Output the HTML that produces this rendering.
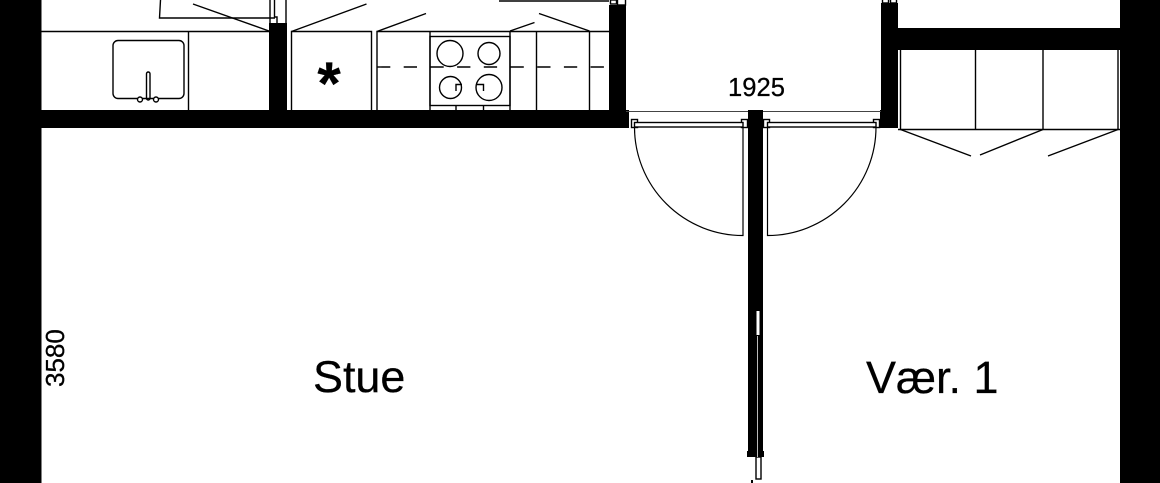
<!DOCTYPE html>
<html>
<head>
<meta charset="utf-8">
<style>
html,body{margin:0;padding:0;background:#fff;width:1160px;height:483px;overflow:hidden}
svg{display:block}
text{font-family:"Liberation Sans",sans-serif;fill:#000;stroke:#000;stroke-width:.25}
</style>
</head>
<body>
<svg width="1160" height="483" viewBox="0 0 1160 483" xmlns="http://www.w3.org/2000/svg">
<rect width="1160" height="483" fill="#fff"/>
<!-- walls -->
<g fill="#000">
<rect x="0" y="0" width="41.5" height="483"/>
<rect x="1120" y="0" width="40" height="483"/>
<rect x="41" y="110" width="588" height="18"/>
<rect x="269" y="23" width="18" height="88"/>
<rect x="609" y="5" width="17" height="106"/>
<rect x="881" y="3" width="17" height="125"/>
<rect x="880" y="110" width="18" height="18"/>
<rect x="898" y="28" width="222" height="22"/>
<rect x="748" y="110" width="15" height="347"/>
<rect x="747" y="451" width="17" height="6"/>
</g>
<!-- thin lines -->
<g fill="none" stroke="#000" stroke-width="1.4">
<!-- left kitchen -->
<path d="M41 31.5H269"/>
<path d="M188.5 31.5V110"/>
<path d="M160.5 0L159.5 18H275"/>
<path d="M193 4L269 31"/>
<path d="M270 0V23M274.5 0V17H277V23M286 0V23"/>
<rect x="113" y="40.5" width="71" height="58" rx="5" ry="5"/>
<rect x="146.5" y="72" width="3.5" height="28" rx="1.75" ry="1.75"/>
<circle cx="140" cy="99.5" r="2.5" fill="#fff"/>
<circle cx="156" cy="99.5" r="2.5" fill="#fff"/>
<!-- cabinets -->
<path d="M291.5 110V31.5H371.5V110"/>
<path d="M291.5 31.5L366.5 4"/>
<path d="M377 110V31.5H609"/>
<path d="M377 31.5L426 13.5"/>
<path d="M430 31.5V110M510 31.5V110M536.5 31.5V110M589.5 31.5V110"/>
<path d="M510 31L534.5 22.5"/>
<path d="M589.5 31L539 13.5"/>
<rect x="430" y="36.5" width="80" height="69"/>
<path d="M377 67H609" stroke-dasharray="13.3 13.4"/>
<circle cx="450" cy="53.5" r="13"/>
<circle cx="489" cy="53.5" r="11"/>
<circle cx="450.5" cy="87.5" r="11"/>
<circle cx="489" cy="87.5" r="13"/>
<path d="M456 91V84.5H462M476.5 84.5H483.5V91"/>
<path d="M456 105.5V110M483.5 105.5V110"/>
<path d="M499 1H609"/>
<rect x="610.5" y="0" width="6" height="4" />
<rect x="617.5" y="-1" width="8" height="6"/>
<!-- doorway -->
<path d="M626 111.5H748M763 111.5H881" stroke="#444" stroke-width="1.1"/>
<rect x="631.5" y="119.5" width="6" height="8" fill="#fff"/>
<rect x="741.5" y="119.5" width="6" height="8" fill="#fff"/>
<rect x="763.5" y="119.5" width="6" height="8" fill="#fff"/>
<rect x="873.5" y="119.5" width="6" height="8" fill="#fff"/>
<rect x="634.5" y="122.5" width="108.5" height="4.5" fill="#fff"/>
<rect x="767.5" y="122.5" width="108.5" height="4.5" fill="#fff"/>
<path d="M743 127V235.5A108.5 108.5 0 0 1 634.5 127" stroke-width="1.2"/>
<path d="M767.5 127V235.5A108.5 108.5 0 0 0 876 127" stroke-width="1.2"/>
<!-- right closets -->
<path d="M898 129.5H1120"/>
<path d="M900.5 50V129.5M975.5 50V129.5M1043 50V129.5M1118 50V129.5"/>
<path d="M900.5 129.5L971 156M980 155L1043 129.5M1048 156L1118 129.5"/>
<rect x="882.5" y="-1" width="6" height="4"/>
<rect x="890.5" y="-1" width="6" height="4"/>
<!-- bottom door stub -->
<rect x="756" y="457" width="5" height="22"/>
</g>
<!-- slit in centre wall -->
<rect x="756.5" y="311" width="3" height="24" fill="#fff"/>
<rect x="757" y="336" width="1" height="121" fill="#bbb"/>
<rect x="751" y="480" width="2" height="3" fill="#000"/>
<!-- labels -->
<text x="756.5" y="96" font-size="25.6" text-anchor="middle">1925</text>
<text x="313" y="392" font-size="44.9">Stue</text>
<text x="866" y="393" font-size="45">Vær. 1</text>
<text transform="translate(64 387) rotate(-90)" font-size="26">3580</text>
<text x="329" y="104" font-size="60" font-weight="bold" text-anchor="middle">*</text>
</svg>
</body>
</html>
